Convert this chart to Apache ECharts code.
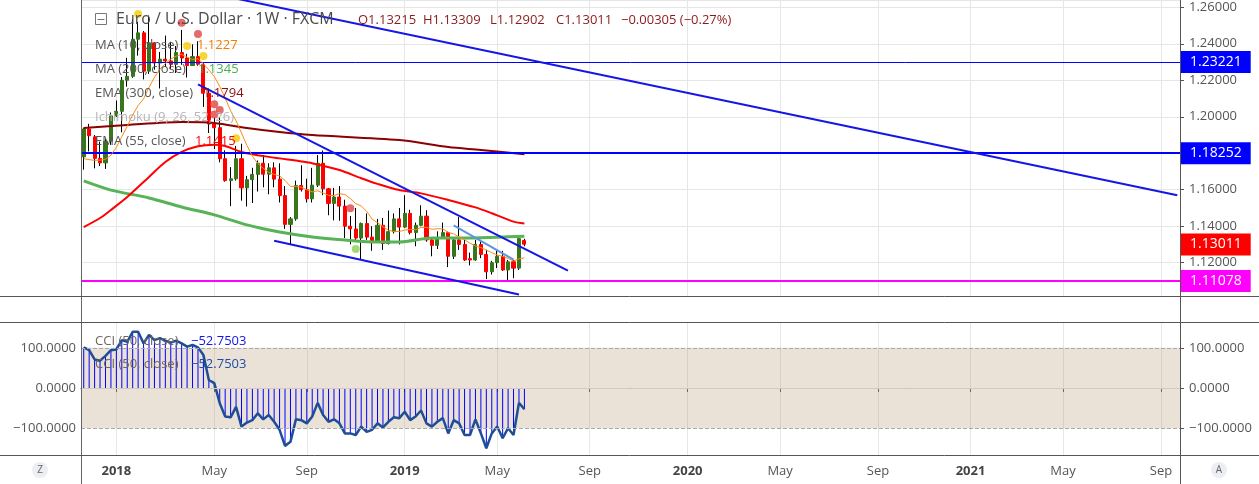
<!DOCTYPE html>
<html><head><meta charset="utf-8">
<script src="https://cdn.jsdelivr.net/npm/echarts@6/dist/echarts.min.js"></script>
<style>html,body{margin:0;padding:0;background:#fff}#c{width:1259px;height:484px}</style>
</head><body><div id="c"></div>
<script>
// ---------- axis categories: weekly bars (Mondays) ----------
const firstWeek = [2017, 10, 20];   // 2017-11-20 (month is 0-based)
const weekCount = 202;
const labelMonths = [1, 5, 9];
const monthLabels = { 5: 'May', 9: 'Sep' };

// ---------- weekly OHLC, EUR/USD (from 2017-11-20 to 2019-06-10) ----------
const candleOpen = [1.1780,1.1933,1.1890,1.1772,1.1747,1.1866,1.2005,1.2030,1.2200,1.2222,
1.2425,1.2460,1.2250,1.2405,1.2295,1.2316,1.2306,1.2287,1.2352,1.2322,
1.2281,1.2330,1.2288,1.2129,1.1960,1.1940,1.1770,1.1650,1.1660,1.1770,
1.1610,1.1655,1.1684,1.1745,1.1685,1.1720,1.1658,1.1568,1.1410,1.1440,
1.1623,1.1600,1.1550,1.1625,1.1745,1.1605,1.1525,1.1560,1.1510,1.1400,
1.1385,1.1335,1.1415,1.1340,1.1315,1.1405,1.1305,1.1370,1.1440,1.1395,
1.1470,1.1365,1.1405,1.1455,1.1325,1.1295,1.1335,1.1365,1.1235,1.1325,
1.1300,1.1222,1.1215,1.1300,1.1245,1.1150,1.1200,1.1235,1.1160,1.1205,
1.1170,1.13215];
const candleClose = [1.1933,1.1896,1.1772,1.1747,1.1866,1.2005,1.2030,1.2200,1.2222,1.2425,
1.2460,1.2250,1.2405,1.2295,1.2316,1.2306,1.2287,1.2352,1.2322,1.2281,
1.2330,1.2288,1.2129,1.1960,1.1940,1.1770,1.1650,1.1660,1.1770,1.1610,
1.1655,1.1684,1.1745,1.1685,1.1720,1.1658,1.1568,1.1410,1.1440,1.1623,
1.1600,1.1550,1.1625,1.1745,1.1605,1.1525,1.1560,1.1510,1.1400,1.1385,
1.1335,1.1415,1.1340,1.1315,1.1405,1.1305,1.1370,1.1440,1.1395,1.1470,
1.1365,1.1405,1.1455,1.1325,1.1295,1.1335,1.1365,1.1235,1.1325,1.1300,
1.1215,1.1215,1.1300,1.1245,1.1150,1.1200,1.1235,1.1160,1.1205,1.1170,
1.1332,1.13011];
const candleHigh = [1.1940,1.1961,1.1900,1.1863,1.1880,1.2023,1.2089,1.2218,1.2323,1.2537,
1.2520,1.2470,1.2555,1.2408,1.2355,1.2445,1.2411,1.2388,1.2476,1.2345,
1.2397,1.2414,1.2299,1.2155,1.1996,1.1997,1.1816,1.1724,1.1840,1.1852,
1.1676,1.1720,1.1760,1.1790,1.1745,1.1750,1.1745,1.1620,1.1450,1.1650,
1.1734,1.1660,1.1720,1.1790,1.1815,1.1610,1.1610,1.1620,1.1545,1.1456,
1.1500,1.1420,1.1470,1.1400,1.1440,1.1445,1.1486,1.1470,1.1500,1.1570,
1.1490,1.1420,1.1515,1.1488,1.1340,1.1372,1.1420,1.1370,1.1340,1.1450,
1.1325,1.1255,1.1325,1.1325,1.1270,1.1210,1.1265,1.1265,1.1215,1.1215,
1.1348,1.13309];
const candleLow = [1.1710,1.1810,1.1717,1.1730,1.1714,1.1846,1.1999,1.1915,1.2165,1.2214,
1.2335,1.2205,1.2235,1.2258,1.2155,1.2273,1.2260,1.2240,1.2285,1.2215,
1.2280,1.2280,1.2054,1.1911,1.1823,1.1750,1.1644,1.1510,1.1650,1.1540,
1.1508,1.1527,1.1590,1.1613,1.1575,1.1613,1.1530,1.1385,1.1301,1.1430,
1.1590,1.1530,1.1530,1.1615,1.1570,1.1460,1.1432,1.1430,1.1335,1.1300,
1.1320,1.1215,1.1325,1.1265,1.1310,1.1270,1.1300,1.1360,1.1300,1.1390,
1.1355,1.1290,1.1400,1.1315,1.1235,1.1275,1.1330,1.1176,1.1220,1.1270,
1.1210,1.1185,1.1210,1.1225,1.1110,1.1135,1.1170,1.1155,1.1105,1.1115,
1.1160,1.12902];

// ---------- indicators ----------
const ma10 = [1.1770,1.1765,1.1761,1.1762,1.1767,1.1789,1.1832,1.1891,1.1947,1.2010,
1.2062,1.2098,1.2161,1.2216,1.2261,1.2291,1.2317,1.2332,1.2342,1.2327,
1.2314,1.2318,1.2291,1.2257,1.2220,1.2166,1.2102,1.2033,1.1978,1.1911,
1.1843,1.1783,1.1744,1.1717,1.1695,1.1684,1.1676,1.1651,1.1618,1.1619,
1.1613,1.1600,1.1588,1.1594,1.1582,1.1569,1.1568,1.1578,1.1574,1.1551,
1.1524,1.1511,1.1482,1.1439,1.1419,1.1397,1.1378,1.1371,1.1371,1.1379,
1.1382,1.1381,1.1393,1.1394,1.1383,1.1386,1.1385,1.1365,1.1358,1.1341,
1.1326,1.1307,1.1291,1.1283,1.1269,1.1255,1.1242,1.1235,1.1223,1.1210,
1.1221,1.1227];
const ema55Week = [0,3,5,8,12,15,18,21,24,26,29,34,40,42,47,51,54,58,62,67,72,75,79,81];
const ema55Val  = [1.1395,1.1445,1.1489,1.1560,1.1670,1.1752,1.1807,1.1838,1.1847,1.1840,1.1807,1.1780,1.1755,1.1745,1.1708,1.1663,1.1632,1.1598,1.1580,1.1544,1.1503,1.1471,1.1425,1.1415];
const ema300Week = [0,8,18,24,30,36,42,58,67,73,81];
const ema300Val  = [1.1938,1.1955,1.1971,1.1966,1.1938,1.1916,1.1900,1.1872,1.1834,1.1818,1.1794];
const ma200Week = [0,5,12,18,24,30,36,42,48,54,58,64,70,76,81];
const ma200Val  = [1.1648,1.1598,1.1555,1.1505,1.1462,1.1407,1.1368,1.1341,1.1324,1.1313,1.1313,1.1335,1.1335,1.1340,1.1345];

const yellowDotWeek = [10,19,22,28];
const yellowDotVal  = [1.2563,1.2388,1.2333,1.1882];
const redDotWeek = [18,21,24,25,24,49];
const redDotVal  = [1.2516,1.2454,1.2068,1.2037,1.2012,1.1498];
const greenDotWeek = [50];
const greenDotVal  = [1.1275];

// trend lines: [startWeek, startPrice, endWeek, endPrice]
const longTrend    = [27, 1.26543, 201, 1.15691];
const channelTop   = [21, 1.2177, 89, 1.1157];
const channelBot   = [35, 1.1320, 80, 1.1026];
const shortTrend   = [68, 1.1404, 79, 1.1217];

// horizontal levels
const levelValues = [1.23221, 1.18252, 1.11078];
const levelColors = ['#0000ff', '#0000ff', '#ff00ff'];
const levelWidths = [1, 2, 2];
const lastPrice = 1.13011;

// CCI (50, close)
const cci = [101,94,71,68,80,94,96,119,115,140,140,111,132,119,124,118,113,118,111,103,
107,101,82,20,12,-38,-71,-73,-47,-96,-86,-80,-63,-78,-67,-84,-104,-144,-134,-78,
-80,-88,-71,-37,-67,-84,-78,-88,-113,-113,-117,-96,-109,-104,-88,-98,-84,-73,-75,-59,
-80,-71,-56,-88,-96,-84,-75,-113,-80,-88,-117,-117,-78,-113,-150,-113,-96,-125,-100,-117,
-37,-52.75];

// ---------- build ----------
const categories = [];
for (let i = 0; i < weekCount; i++) {
  const d = new Date(Date.UTC(firstWeek[0], firstWeek[1], firstWeek[2]) + i * 7 * 86400000);
  categories.push(d.toISOString().slice(0, 10));
}
function isLabel(idx, val) {
  const m = +val.slice(5, 7), d = +val.slice(8, 10);
  return d <= 7 && labelMonths.indexOf(m) >= 0;
}
function fmtLabel(val) {
  const m = +val.slice(5, 7);
  return m === 1 ? '{y|' + val.slice(0, 4) + '}' : monthLabels[m];
}
const wickData = candleOpen.map((o, i) => [o, candleClose[i], candleLow[i], candleHigh[i]]);
const bodyData = candleOpen.map((o, i) => [o, candleClose[i], Math.min(o, candleClose[i]), Math.max(o, candleClose[i])]);
const pairs = (w, v) => w.map((x, i) => [x, v[i]]);
const seg = t => [[t[0], t[1]], [t[2], t[3]]];

const FONT = '"Open Sans", "Noto Sans", sans-serif';
const GRID = '#e6e6e6';

function trendSeries(t, color, width) {
  return { type: 'line', xAxisIndex: 0, yAxisIndex: 0, data: seg(t), showSymbol: false, silent: true,
    lineStyle: { color: color, width: width }, z: 6, animation: false };
}
function lineSeries(data, color, width, smooth, z) {
  return { type: 'line', xAxisIndex: 0, yAxisIndex: 0, data: data, showSymbol: false, smooth: smooth,
    silent: true, lineStyle: { color: color, width: width }, z: z };
}
function boxLabel(v, color) {
  return { show: true, position: 'end', distance: 1, formatter: v.toFixed(5), color: '#fff', opacity: 1,
    backgroundColor: color, padding: [4, 9, 4, 9], fontSize: 14, fontFamily: FONT };
}

const levelMarks = levelValues.map((v, i) => ({
  yAxis: v,
  lineStyle: { color: levelColors[i], width: levelWidths[i], type: 'solid' },
  label: boxLabel(v, levelColors[i])
}));

const option = {
  animation: false,
  textStyle: { fontFamily: FONT },
  grid: [
    { left: 81, right: 79, top: 0, height: 296, containLabel: false, outerBoundsMode: 'none' },
    { left: 81, right: 79, top: 323, height: 132, containLabel: false, outerBoundsMode: 'none' }
  ],
  xAxis: [
    { type: 'category', gridIndex: 0, data: categories, boundaryGap: true,
      axisLine: { show: false }, axisTick: { show: false }, axisLabel: { show: false },
      splitLine: { show: true, interval: isLabel, alignWithLabel: true, lineStyle: { color: GRID } } },
    { type: 'category', gridIndex: 1, data: categories, boundaryGap: true,
      axisLine: { show: true, lineStyle: { color: '#555' } },
      axisTick: { show: true, interval: isLabel, alignWithLabel: true, length: 4, lineStyle: { color: '#555' } },
      axisLabel: { show: true, interval: isLabel, formatter: fmtLabel, color: '#555', fontSize: 13, margin: 10,
        rich: { y: { fontWeight: 'bold', color: '#444', fontSize: 13 } } },
      splitLine: { show: true, interval: isLabel, alignWithLabel: true, lineStyle: { color: GRID } } }
  ],
  yAxis: [
    { type: 'value', gridIndex: 0, position: 'right', min: 1.10173, max: 1.26401, splitNumber: 8, scale: true,
      axisLine: { show: true, lineStyle: { color: '#555' } },
      axisTick: { show: true, length: 4, lineStyle: { color: '#555' } },
      axisLabel: { color: '#555', fontSize: 13, margin: 9, showMinLabel: false, showMaxLabel: false,
        formatter: v => v.toFixed(5) },
      splitLine: { show: true, lineStyle: { color: GRID } } },
    { type: 'value', gridIndex: 1, position: 'right', min: -166.7, max: 161.7, splitNumber: 3,
      axisLine: { show: true, lineStyle: { color: '#555' } },
      axisTick: { show: true, length: 4, lineStyle: { color: '#555' } },
      axisLabel: { color: '#555', fontSize: 13, margin: 9, showMinLabel: false, showMaxLabel: false,
        formatter: v => (v < 0 ? '\u2212' : '') + Math.abs(v).toFixed(4) },
      splitLine: { show: false } },
    { type: 'value', gridIndex: 1, position: 'left', min: -166.7, max: 161.7, splitNumber: 3,
      axisLine: { show: false }, axisTick: { show: false },
      axisLabel: { color: '#555', fontSize: 13, margin: 5, showMinLabel: false, showMaxLabel: false,
        formatter: v => (v < 0 ? '\u2212' : '') + Math.abs(v).toFixed(4) },
      splitLine: { show: false } }
  ],
  series: [
    { type: 'candlestick', xAxisIndex: 0, yAxisIndex: 0, data: wickData, barWidth: 1, silent: true, z: 2,
      itemStyle: { color: '#000', color0: '#000', borderColor: '#000', borderColor0: '#000', borderWidth: 1 } },
    { type: 'candlestick', xAxisIndex: 0, yAxisIndex: 0, data: bodyData, barWidth: 3.6, silent: true, z: 3,
      itemStyle: { color: '#38761d', color0: '#ff0000', borderColor: '#38761d', borderColor0: '#ff0000', borderWidth: 1 } },
    lineSeries(pairs(ema300Week, ema300Val), '#8b0000', 2, 0.3, 4),
    lineSeries(pairs(ma200Week, ma200Val), '#58b358', 3, 0.3, 4),
    lineSeries(pairs(ema55Week, ema55Val), '#ff0000', 2, 0.3, 4),
    lineSeries(ma10, '#ff8a14', 1, false, 5),
    trendSeries(longTrend, '#1515e6', 2),
    trendSeries(channelTop, '#1515e6', 2),
    trendSeries(channelBot, '#1515e6', 2),
    trendSeries(shortTrend, '#5a96e0', 2),
    { type: 'line', xAxisIndex: 0, yAxisIndex: 0, data: [], silent: true, z: 7,
      markLine: { silent: true, symbol: ['none', 'none'], animation: false, data: levelMarks } },
    { type: 'line', xAxisIndex: 0, yAxisIndex: 0, data: [], silent: true, z: 7,
      markLine: { silent: true, symbol: ['none', 'none'], animation: false,
        data: [{ yAxis: lastPrice, lineStyle: { color: 'rgba(255,0,0,0)', width: 1, type: 'solid' },
                 label: boxLabel(lastPrice, '#ff0000') }] } },
    { type: 'scatter', xAxisIndex: 0, yAxisIndex: 0, data: pairs(yellowDotWeek, yellowDotVal), symbolSize: 8,
      silent: true, z: 8, itemStyle: { color: '#f5cc00' } },
    { type: 'scatter', xAxisIndex: 0, yAxisIndex: 0, data: pairs(redDotWeek, redDotVal), symbolSize: 8,
      silent: true, z: 8, itemStyle: { color: '#e05050', opacity: 0.85 } },
    { type: 'scatter', xAxisIndex: 0, yAxisIndex: 0, data: pairs(greenDotWeek, greenDotVal), symbolSize: 8,
      silent: true, z: 8, itemStyle: { color: '#8cd050' } },
    { type: 'bar', xAxisIndex: 1, yAxisIndex: 1, data: cci, barWidth: 1, silent: true, z: 2,
      itemStyle: { color: '#0000ff' },
      markArea: { silent: true, itemStyle: { color: 'rgba(180,150,110,0.28)' }, data: [[{ yAxis: -100 }, { yAxis: 100 }]] },
      markLine: { silent: true, symbol: ['none', 'none'], label: { show: false },
        data: [
          { yAxis: 100, lineStyle: { color: '#a9a9a9', type: 'dashed', width: 1 } },
          { yAxis: -100, lineStyle: { color: '#a9a9a9', type: 'dashed', width: 1 } },
          { yAxis: 0, lineStyle: { color: '#d2cabd', type: 'solid', width: 1 } }
        ] } },
    { type: 'line', xAxisIndex: 1, yAxisIndex: 1, data: cci, showSymbol: false, silent: true, z: 4,
      lineStyle: { color: '#1f4e96', width: 2.5 } }
  ],
  graphic: [
    { type: 'line', z: 90, shape: { x1: 81.5, y1: 0, x2: 81.5, y2: 484 }, style: { stroke: '#666', lineWidth: 1 } },
    { type: 'line', z: 90, shape: { x1: 1180.5, y1: 0, x2: 1180.5, y2: 484 }, style: { stroke: '#555', lineWidth: 1 } },
    { type: 'line', z: 90, shape: { x1: 0, y1: 296.5, x2: 1259, y2: 296.5 }, style: { stroke: '#555', lineWidth: 1 } },
    { type: 'line', z: 90, shape: { x1: 0, y1: 322.5, x2: 1259, y2: 322.5 }, style: { stroke: '#555', lineWidth: 1 } },
    { type: 'line', z: 90, shape: { x1: 0, y1: 455.5, x2: 1259, y2: 455.5 }, style: { stroke: '#555', lineWidth: 1 } },
    { type: 'rect', z: 100, shape: { x: 95.5, y: 13.5, width: 11, height: 11 }, style: { fill: 'none', stroke: '#777', lineWidth: 1 } },
    { type: 'line', z: 100, shape: { x1: 97.5, y1: 19.5, x2: 104.5, y2: 19.5 }, style: { stroke: '#777', lineWidth: 1 } },
    { type: 'text', z: 100, x: 116, y: 19, style: { text: 'Euro / U.S. Dollar · 1W · FXCM', fill: '#4a4a4a', font: '16px ' + FONT, verticalAlign: 'middle' } },
    { type: 'text', z: 100, x: 358, y: 20, style: { text: 'O1.13215', fill: '#8b1a1a', font: '13px ' + FONT, verticalAlign: 'middle' } },
    { type: 'text', z: 100, x: 423, y: 20, style: { text: 'H1.13309', fill: '#8b1a1a', font: '13px ' + FONT, verticalAlign: 'middle' } },
    { type: 'text', z: 100, x: 490, y: 20, style: { text: 'L1.12902', fill: '#8b1a1a', font: '13px ' + FONT, verticalAlign: 'middle' } },
    { type: 'text', z: 100, x: 556, y: 20, style: { text: 'C1.13011', fill: '#8b1a1a', font: '13px ' + FONT, verticalAlign: 'middle' } },
    { type: 'text', z: 100, x: 621, y: 20, style: { text: '\u22120.00305 (\u22120.27%)', fill: '#8b1a1a', font: '13px ' + FONT, verticalAlign: 'middle' } },
    { type: 'text', z: 100, x: 95, y: 45, style: { text: 'MA (10, close)', fill: '#555', font: '13px ' + FONT, verticalAlign: 'middle' } },
    { type: 'text', z: 100, x: 197, y: 45, style: { text: '1.1227', fill: '#f57c00', font: '13px ' + FONT, verticalAlign: 'middle' } },
    { type: 'text', z: 100, x: 95, y: 69, style: { text: 'MA (200, close)', fill: '#555', font: '13px ' + FONT, verticalAlign: 'middle' } },
    { type: 'text', z: 100, x: 198, y: 69, style: { text: '1.1345', fill: '#4caf50', font: '13px ' + FONT, verticalAlign: 'middle' } },
    { type: 'text', z: 100, x: 95, y: 93, style: { text: 'EMA (300, close)', fill: '#555', font: '13px ' + FONT, verticalAlign: 'middle' } },
    { type: 'text', z: 100, x: 203, y: 93, style: { text: '1.1794', fill: '#8b1010', font: '13px ' + FONT, verticalAlign: 'middle' } },
    { type: 'text', z: 100, x: 95, y: 117, style: { text: 'Ichimoku (9, 26, 52, 26)', fill: '#b5b5b5', font: '13px ' + FONT, verticalAlign: 'middle' } },
    { type: 'text', z: 100, x: 95, y: 141, style: { text: 'EMA (55, close)', fill: '#555', font: '13px ' + FONT, verticalAlign: 'middle' } },
    { type: 'text', z: 100, x: 195, y: 141, style: { text: '1.1415', fill: '#ff0000', font: '13px ' + FONT, verticalAlign: 'middle' } },
    { type: 'text', z: 100, x: 95, y: 341, style: { text: 'CCI (50, close)', fill: '#6f6658', font: '13px ' + FONT, verticalAlign: 'middle' } },
    { type: 'text', z: 100, x: 191, y: 341, style: { text: '\u221252.7503', fill: '#1515e6', font: '13px ' + FONT, verticalAlign: 'middle' } },
    { type: 'text', z: 100, x: 95, y: 364, style: { text: 'CCI (50, close)', fill: '#6f6658', font: '13px ' + FONT, verticalAlign: 'middle' } },
    { type: 'text', z: 100, x: 191, y: 364, style: { text: '\u221252.7503', fill: '#1f4ea8', font: '13px ' + FONT, verticalAlign: 'middle' } },
    { type: 'circle', z: 100, shape: { cx: 40, cy: 470, r: 8 }, style: { fill: '#eceef3' } },
    { type: 'text', z: 101, x: 40, y: 470, style: { text: 'Z', fill: '#666', font: '10px ' + FONT, align: 'center', verticalAlign: 'middle' } },
    { type: 'circle', z: 100, shape: { cx: 1219, cy: 470, r: 8 }, style: { fill: '#eceef3' } },
    { type: 'text', z: 101, x: 1219, y: 470, style: { text: 'A', fill: '#666', font: '10px ' + FONT, align: 'center', verticalAlign: 'middle' } }
  ]
};
const chart = echarts.init(document.getElementById('c'), null, { renderer: 'canvas', width: 1259, height: 484 });
chart.setOption(option);
</script>
</body></html>
